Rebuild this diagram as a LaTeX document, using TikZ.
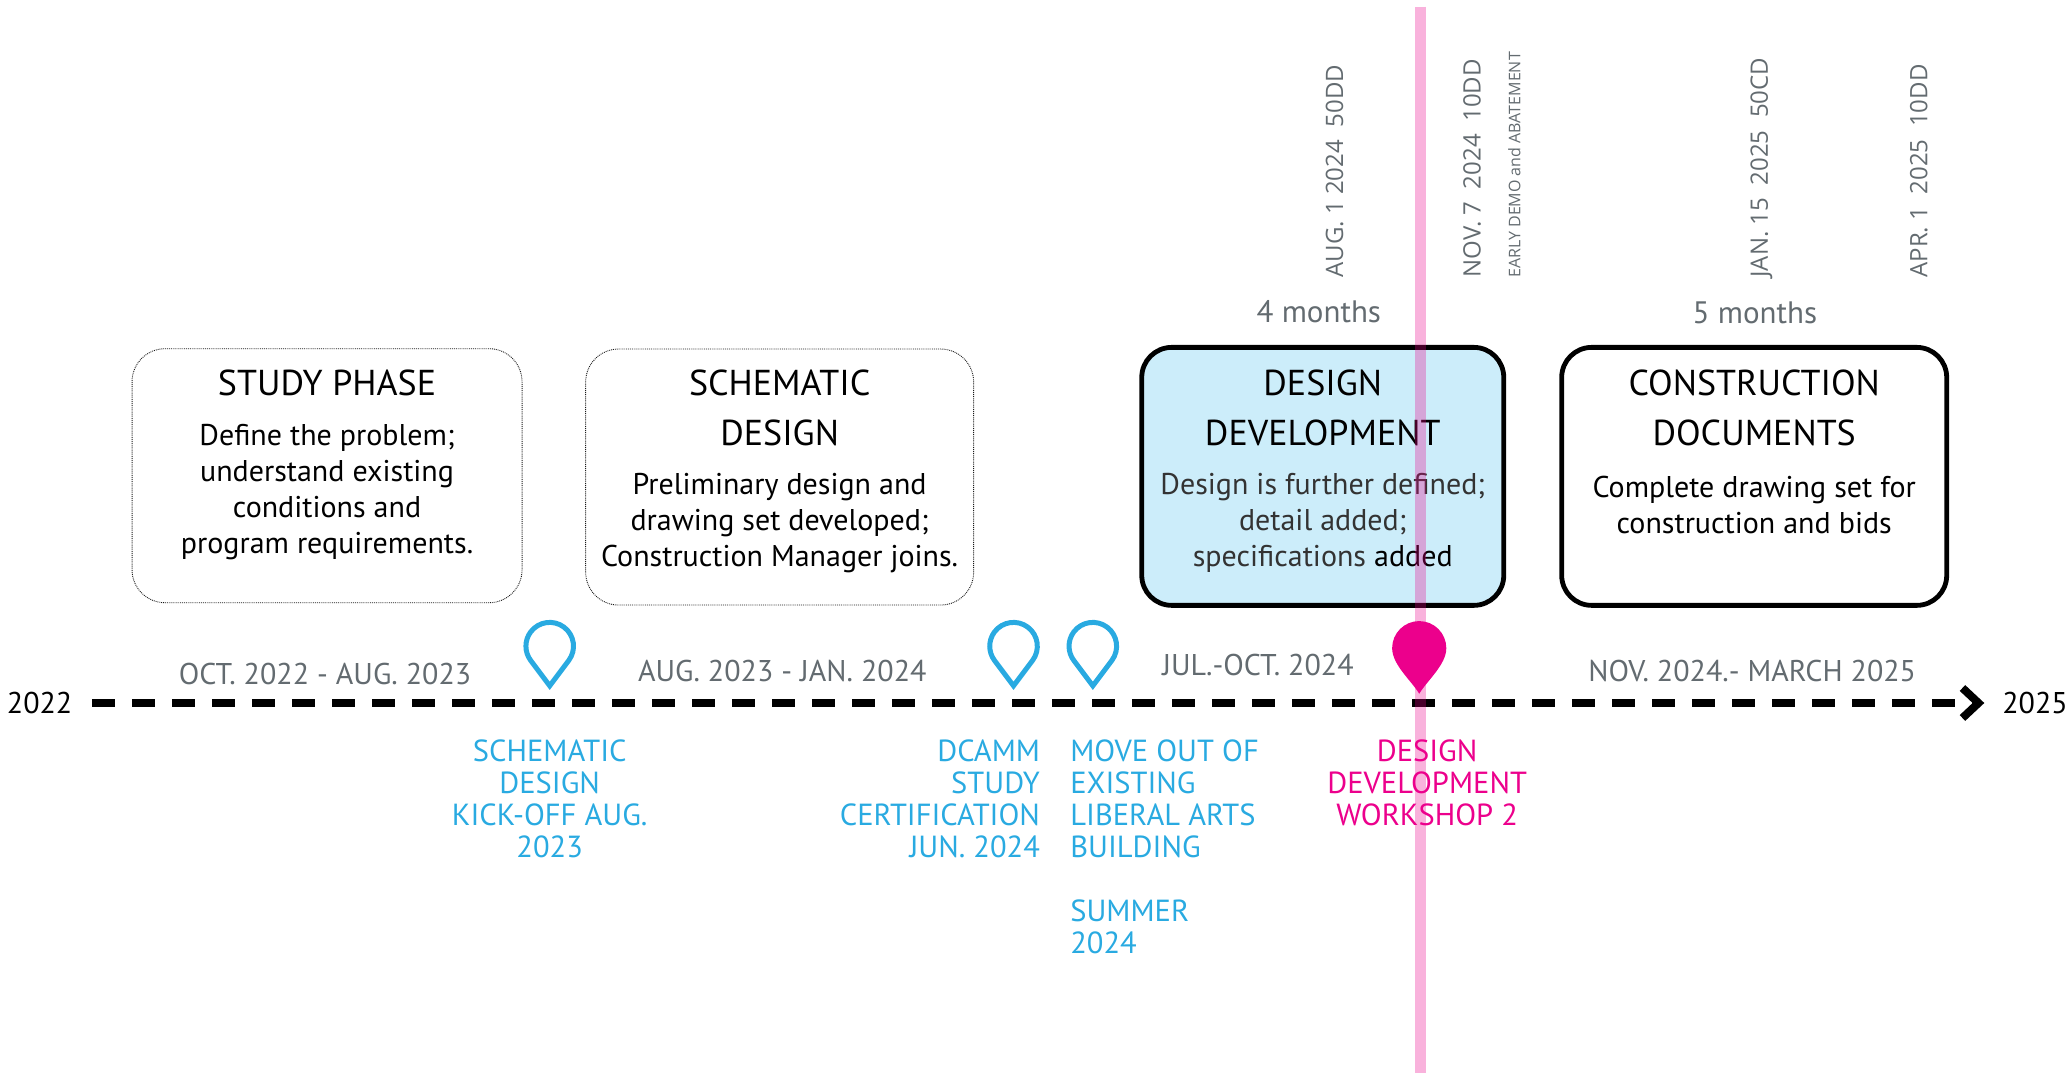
\documentclass[tikz,border=0pt]{standalone}
\usepackage{fontspec}
\setmainfont{PT Sans}
\newfontfamily\osans{Open Sans}
\usetikzlibrary{arrows.meta}
\definecolor{pinblue}{HTML}{29AAE1}
\definecolor{magentaA}{HTML}{EC008C}
\definecolor{txtgray}{HTML}{636B70}
\definecolor{ddfill}{HTML}{CCEDFA}
\tikzset{
  bpin/.pic={\draw[pinline] (0,0) -- (14.4,-19.2) arc[start angle=-36.87,end angle=216.87,radius=23.79pt] -- cycle;},
  mpin/.pic={\fill[magentaA] (0,0) .. controls (-6,-10) and (-20.5,-22) .. (-20.5,-34.5) arc[start angle=180,end angle=0,radius=27.09pt] .. controls (20.5,-22) and (6,-10) .. (0,0) -- cycle;},
}
\begin{document}
\begin{tikzpicture}[x=1.3214pt,y=-1.3214pt,
  every node/.style={inner sep=0pt, outer sep=0pt},
  dotbox/.style={draw=black!90, densely dotted, line width=0.9pt, rounded corners=33pt},
  thickbox/.style={draw=black, line width=4.8pt, rounded corners=30pt},
  ttl/.style={align=center, font=\fontsize{36}{50}\selectfont},
  bdy/.style={align=center, font=\fontsize{30}{36}\selectfont},
  rng/.style={text=txtgray, font=\fontsize{30}{36}\selectfont},
  mon/.style={text=txtgray, font=\fontsize{31}{36}\selectfont},
  rot/.style={text=txtgray, rotate=90, anchor=west, font=\osans\fontsize{24}{28}\selectfont},
  rotsmall/.style={text=txtgray, rotate=90, anchor=west, font=\osans\fontsize{16}{18}\selectfont},
  lbl/.style={text=pinblue, font=\fontsize{30.5}{32}\selectfont},
  yr/.style={font=\fontsize{30}{36}\selectfont},
  axisline/.style={line width=8pt, dash pattern=on 23pt off 17pt, -{Straight Barb[length=16pt,width=30pt]}},
  pinline/.style={draw=pinblue, line width=5pt, line join=miter},
  pinkline/.style={draw=magentaA, line width=11pt, opacity=0.3},
]
\useasboundingbox (0,0) rectangle (1568,812);

% phase boxes
\node[dotbox, minimum width=390pt, minimum height=254pt] (study) at (247.5,360) {};
\node[dotbox, minimum width=388pt, minimum height=256pt] (schem) at (590,361) {};
\node[thickbox, fill=ddfill, minimum width=362pt, minimum height=258pt] (dd) at (1001,360.5) {};
\node[thickbox, minimum width=385pt, minimum height=258pt] (cd) at (1327.5,360.5) {};

\node[ttl] (studyT) at (247.5,290) {STUDY PHASE};
\node[bdy] (studyB) at (247.5,372) {Define the problem;\\understand existing\\conditions and\\program requirements.};
\node[ttl] (schemT) at (590,309) {SCHEMATIC\\DESIGN};
\node[bdy] (schemB) at (590,396) {Preliminary design and\\drawing set developed;\\Construction Manager joins.};
\node[ttl] (ddT) at (1001,309) {DESIGN\\DEVELOPMENT};
\node[bdy] (ddB) at (1001,396) {\color{black!80}Design is further defined;\\\color{black!80}detail added;\\\color{black!80}specifications \color{black}added};
\node[ttl] (cdT) at (1327.5,309) {CONSTRUCTION\\DOCUMENTS};
\node[bdy] (cdB) at (1327.5,382) {Complete drawing set for\\construction and bids};

% durations
\node[mon] (m4) at (998,236) {4 months};
\node[mon] (m5) at (1328,237) {5 months};

% rotated milestones
\node[rot] (aug) at (1010,210) {AUG. 1 2024\ \ 50DD};
\node[rot] (nov) at (1114,210) {NOV. 7\ \ 2024\ \ 10DD};
\node[rotsmall] (early) at (1146,210) {EARLY DEMO and ABATEMENT};
\node[rot] (jan) at (1333,210) {JAN. 15\ \ 2025\ \ 50CD};
\node[rot] (apr) at (1452,210) {APR. 1\ \ 2025\ \ 10DD};

% date ranges
\node[rng] (r1) at (246,510) {OCT. 2022 - AUG. 2023};
\node[rng] (r2) at (592,508) {AUG. 2023 - JAN. 2024};
\node[rng] (r3) at (952,503) {JUL.\kern0pt-\kern0pt OCT. 2024};
\node[rng] (r4) at (1326,508) {NOV. 2024.\kern0pt-\kern0pt{} MARCH 2025};

% axis
\node[yr] (y22) at (30,532) {2022};
\node[yr] (y25) at (1540,532) {2025};
\draw[axisline, shorten <=20pt, shorten >=18pt] (y22) -- (y25);

% blue pins
\pic at (416,519) {bpin};
\pic at (767,519) {bpin};
\pic at (827,519) {bpin};

% labels
\node[lbl, align=center, anchor=north] (kick) at (416,560) {SCHEMATIC\\DESIGN\\KICK-OFF AUG.\\2023};
\node[lbl, align=right, anchor=north east] (dcamm) at (787,560) {DCAMM\\STUDY\\CERTIFICATION\\JUN. 2024};
\node[lbl, align=left, anchor=north west] (move) at (810,560) {MOVE OUT OF\\EXISTING\\LIBERAL ARTS\\BUILDING\\[32pt]SUMMER\\2024};
\node[lbl, text=magentaA, align=center, anchor=north] (ddw) at (1080,560) {DESIGN\\DEVELOPMENT\\WORKSHOP 2};

% today line
\coordinate (ptop) at (1075,5);
\coordinate (pbot) at (1075,812);
\draw[pinkline] (ptop) -- (pbot);
\pic at (1074,525) {mpin};
\end{tikzpicture}
\end{document}
